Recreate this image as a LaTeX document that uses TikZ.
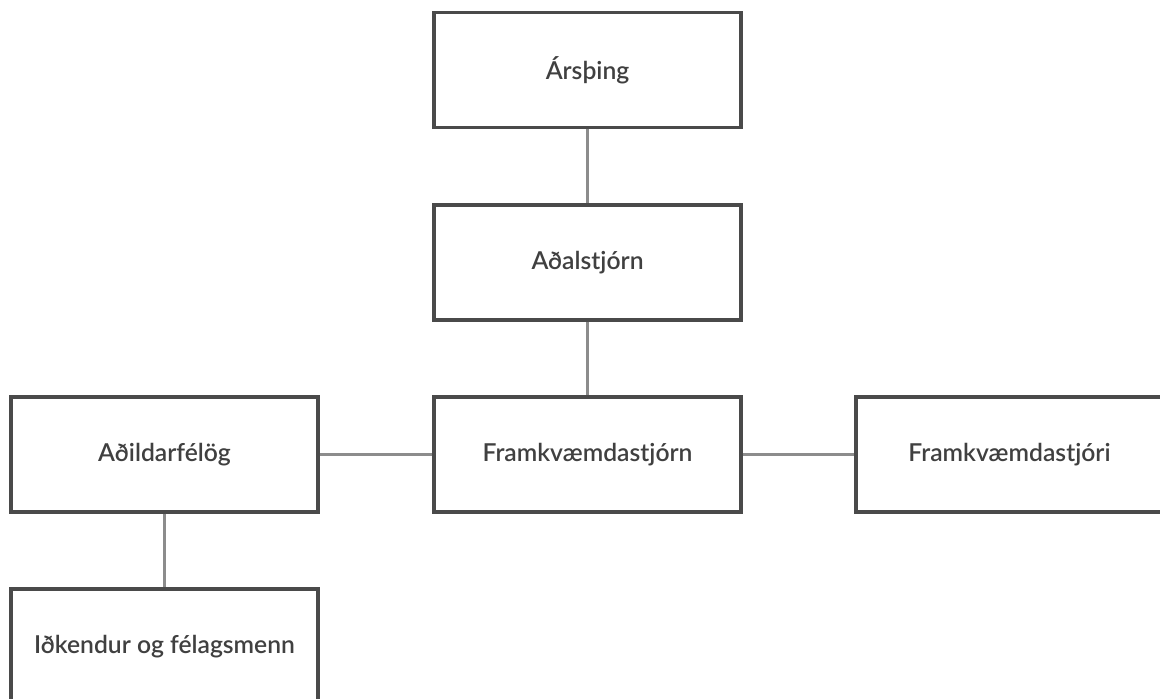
\documentclass[tikz,border=0pt]{standalone}
\usepackage{fontspec}
\setmainfont{Lato}[UprightFont=* Semibold]
\definecolor{boxline}{HTML}{4A4A4A}
\definecolor{conn}{HTML}{8C8C8C}
\definecolor{txt}{HTML}{404040}
\begin{document}
\begin{tikzpicture}[x=0.75pt,y=-0.75pt,
  orgbox/.style={draw=boxline,line width=2.5pt,fill=white,minimum width=307*0.75pt,minimum height=115*0.75pt,inner sep=0pt,text=txt,font=\fontsize{18.5}{20}\selectfont},
  link/.style={draw=conn,line width=2pt}]
\useasboundingbox (0,0) rectangle (1160,699);
\clip (0,0) rectangle (1160,699);
\fill[white] (0,0) rectangle (1160,699);
\node[orgbox] (ars) at (587.5,70) {Ársþing};
\node[orgbox] (adal) at (587.5,262.5) {Aðalstjórn};
\node[orgbox] (frn) at (587.5,454.5) {Framkvæmdastjórn};
\node[orgbox] (adil) at (164.5,454.5) {Aðildarfélög};
\node[orgbox] (fri) at (1009.5,454.5) {Framkvæmdastjóri};
\node[orgbox] (idk) at (164.5,646.5) {Iðkendur og félagsmenn};
\draw[link] (ars.south) -- (adal.north);
\draw[link] (adal.south) -- (frn.north);
\draw[link] (frn.west) -- (adil.east);
\draw[link] (frn.east) -- (fri.west);
\draw[link] (adil.south) -- (idk.north);
\end{tikzpicture}
\end{document}
